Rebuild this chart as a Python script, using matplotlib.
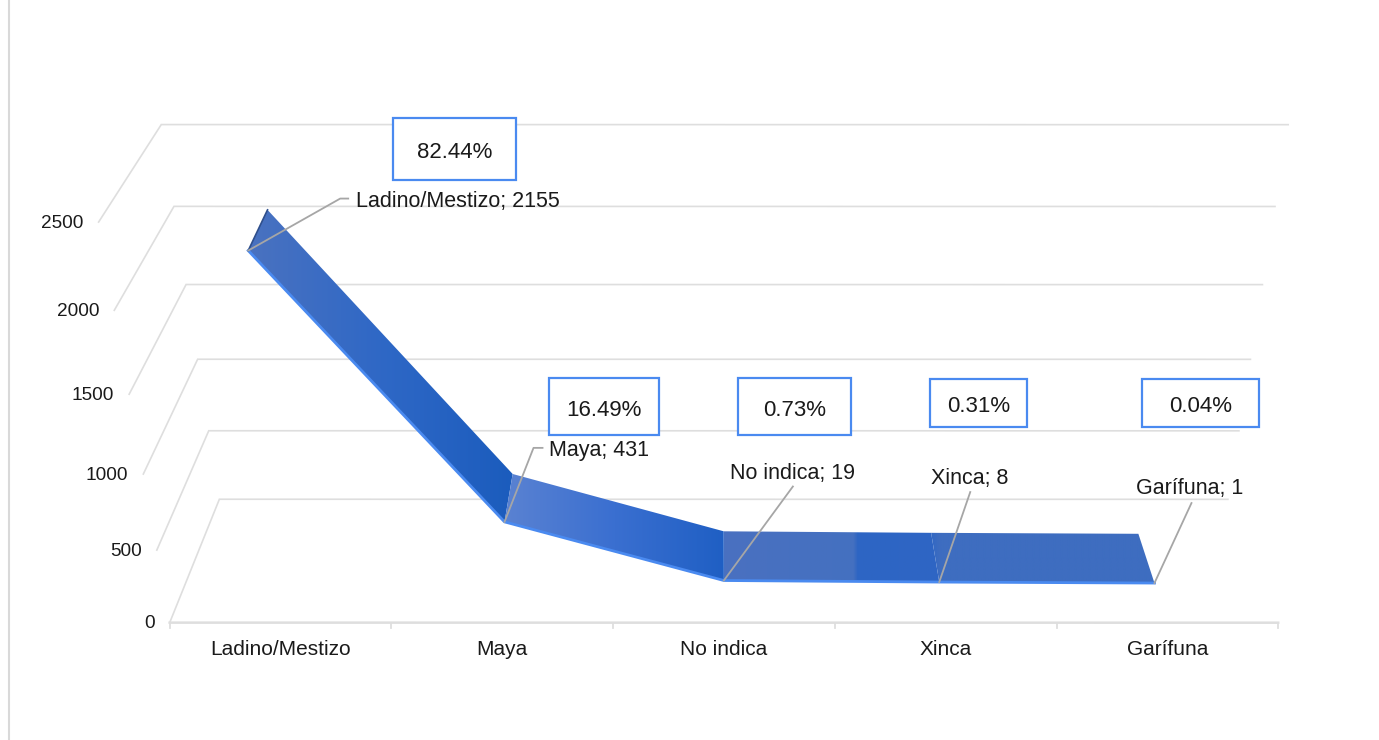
import numpy as np
import matplotlib
matplotlib.use("Agg")
import matplotlib.pyplot as plt
from matplotlib.colors import LinearSegmentedColormap
from matplotlib.patches import Polygon, Rectangle

plt.rcParams["font.family"] = ["Liberation Sans", "DejaVu Sans"]

# Datos
categorias = ["Ladino/Mestizo", "Maya", "No indica", "Xinca", "Garífuna"]
valores = [2155, 431, 19, 8, 1]
porcentajes = ["82.44%", "16.49%", "0.73%", "0.31%", "0.04%"]
ticks_y = [0, 500, 1000, 1500, 2000, 2500]
y_max = 2500

# Puntos de referencia de la caja 3D: (categoria, valor, fondo) -> pixel
caja_3d = [(0, 0, 0), (1, 0, 0), (0, 1, 0), (0, 0, 1), (1, 0, 1), (0, 1, 1), (1, 1, 1),
           (0, .2, 0), (0, .4, 0), (0, .6, 0), (0, .8, 0),
           (0, .2, 1), (0, .4, 1), (0, .6, 1), (0, .8, 1),
           (1, .2, 1), (1, .4, 1), (1, .6, 1), (1, .8, 1)]
caja_px = [(171, 623), (1278, 623), (98, 222), (218, 499), (1227, 499), (162, 125), (1288, 125),
           (157, 550), (143, 474), (129, 394), (114, 310),
           (209, 431), (198, 359), (186, 285), (174, 206),
           (1240, 431), (1251, 359), (1262, 285), (1275, 206)]

# Matriz de proyeccion (DLT)
filas = []
for (a, b, c), (px, py) in zip(caja_3d, caja_px):
    filas.append([a, b, c, 1, 0, 0, 0, 0, -px * a, -px * b, -px * c, -px])
    filas.append([0, 0, 0, 0, a, b, c, 1, -py * a, -py * b, -py * c, -py])
P = np.linalg.svd(np.array(filas, dtype=float))[2][-1].reshape(3, 4)


def proyectar(u, valor, fondo):
    h = P @ np.array([u, valor / y_max, fondo, 1.0])
    return h[0] / h[2], h[1] / h[2]


fig = plt.figure(figsize=(13.79, 7.40), dpi=100)
ax = fig.add_axes([0, 0, 1, 1])
ax.axis("off")

color_rejilla = "#dedede"
color_texto = "#1a1a1a"

# Linea vertical a la izquierda
ax.plot([9, 9], [0, 740], color="#d9d9d9", lw=1.5)

# Rejilla
for t in ticks_y:
    x0, y0 = proyectar(0, t, 0)
    x1, y1 = proyectar(0, t, 1)
    x2, y2 = proyectar(1, t, 1)
    ax.plot([x0, x1, x2], [y0, y1, y2], color=color_rejilla, lw=1.2, solid_joinstyle="miter")
    ax.text(x0 - 15, y0 + 1, str(t), ha="right", va="center", fontsize=13.7, color=color_texto)

# Eje x
x0, y0 = proyectar(0, 0, 0)
x1, y1 = proyectar(1, 0, 0)
ax.plot([x0, x1], [y0, y1], color=color_rejilla, lw=1.8)
for i in range(len(categorias) + 1):
    xt, yt = proyectar(i / len(categorias), 0, 0)
    ax.plot([xt, xt], [yt, yt + 5], color=color_rejilla, lw=1.3)
for i, cat in enumerate(categorias):
    xt, yt = proyectar((i + .5) / len(categorias), 0, 0)
    ax.text(xt, yt + 27, cat, ha="center", va="center", fontsize=15, color=color_texto)

# Cinta 3D
fondo_a = 0.30
fondo_b = 0.70
frente = [proyectar((i + .5) / 5, v, fondo_a) for i, v in enumerate(valores)]
atras = [proyectar((i + .5) / 5, v, fondo_b) for i, v in enumerate(valores)]

degradados = [
    [(0, "#4a72c0"), (.5, "#2f68c6"), (1, "#1b5cbd")],
    [(0, "#5a82d2"), (.5, "#3a6fd0"), (1, "#1f5fc4")],
    [(0, "#4a71c0"), (.6, "#4470c0"), (.62, "#2d65c4"), (1, "#2f66c4")],
    [(0, "#3268c4"), (.04, "#3e6dc0"), (1, "#3e6dc0")],
]
for i in range(4):
    puntos = [frente[i], frente[i + 1], atras[i + 1], atras[i]]
    xs = [p[0] for p in puntos]
    ys = [p[1] for p in puntos]
    cmap = LinearSegmentedColormap.from_list("g%d" % i, degradados[i])
    im = ax.imshow(np.linspace(0, 1, 256).reshape(1, -1), cmap=cmap, aspect="auto",
                   extent=[min(xs), max(xs), max(ys), min(ys)], zorder=3)
    im.set_clip_path(Polygon(puntos, transform=ax.transData))

ax.plot([p[0] for p in frente], [p[1] for p in frente], color="#4a8af0", lw=2, zorder=4)
ax.plot([frente[0][0], atras[0][0]], [frente[0][1], atras[0][1]], color="#2f4f8c", lw=1.2, zorder=4)

# Etiquetas con linea guia (desplazamientos en pixeles)
etiquetas = ["%s; %d" % (c, v) for c, v in zip(categorias, valores)]
guias = [[(92, -52), (100, -52)], [(29, -74), (38, -74)], [(69, -94)], [(31, -90)], [(37, -80)]]
texto_pos = [(108, -49), (44, -71), (6, -107), (-8, -104), (-18, -95)]
for i in range(5):
    fx, fy = frente[i]
    lx = [fx] + [fx + g[0] for g in guias[i]]
    ly = [fy] + [fy + g[1] for g in guias[i]]
    ax.plot(lx, ly, color="#a6a6a6", lw=1.3, zorder=5)
    ax.text(fx + texto_pos[i][0], fy + texto_pos[i][1], etiquetas[i], ha="left", va="center",
            fontsize=15.5, color=color_texto, zorder=6)

# Cajas de porcentaje
cajas = [(393, 118, 123, 62), (549, 378, 110, 57), (738, 378, 113, 57), (930, 379, 97, 48), (1142, 379, 117, 48)]
for (bx, by, bw, bh), txt in zip(cajas, porcentajes):
    ax.add_patch(Rectangle((bx, by), bw, bh, facecolor="white", edgecolor="#4a8af0", lw=1.6, zorder=6))
    ax.text(bx + bw / 2, by + bh / 2 + 4, txt, ha="center", va="center", fontsize=16, color=color_texto, zorder=7)

ax.set_xlim(0, 1379)
ax.set_ylim(740, 0)

fig.savefig("out.png", dpi=100, facecolor="white")
